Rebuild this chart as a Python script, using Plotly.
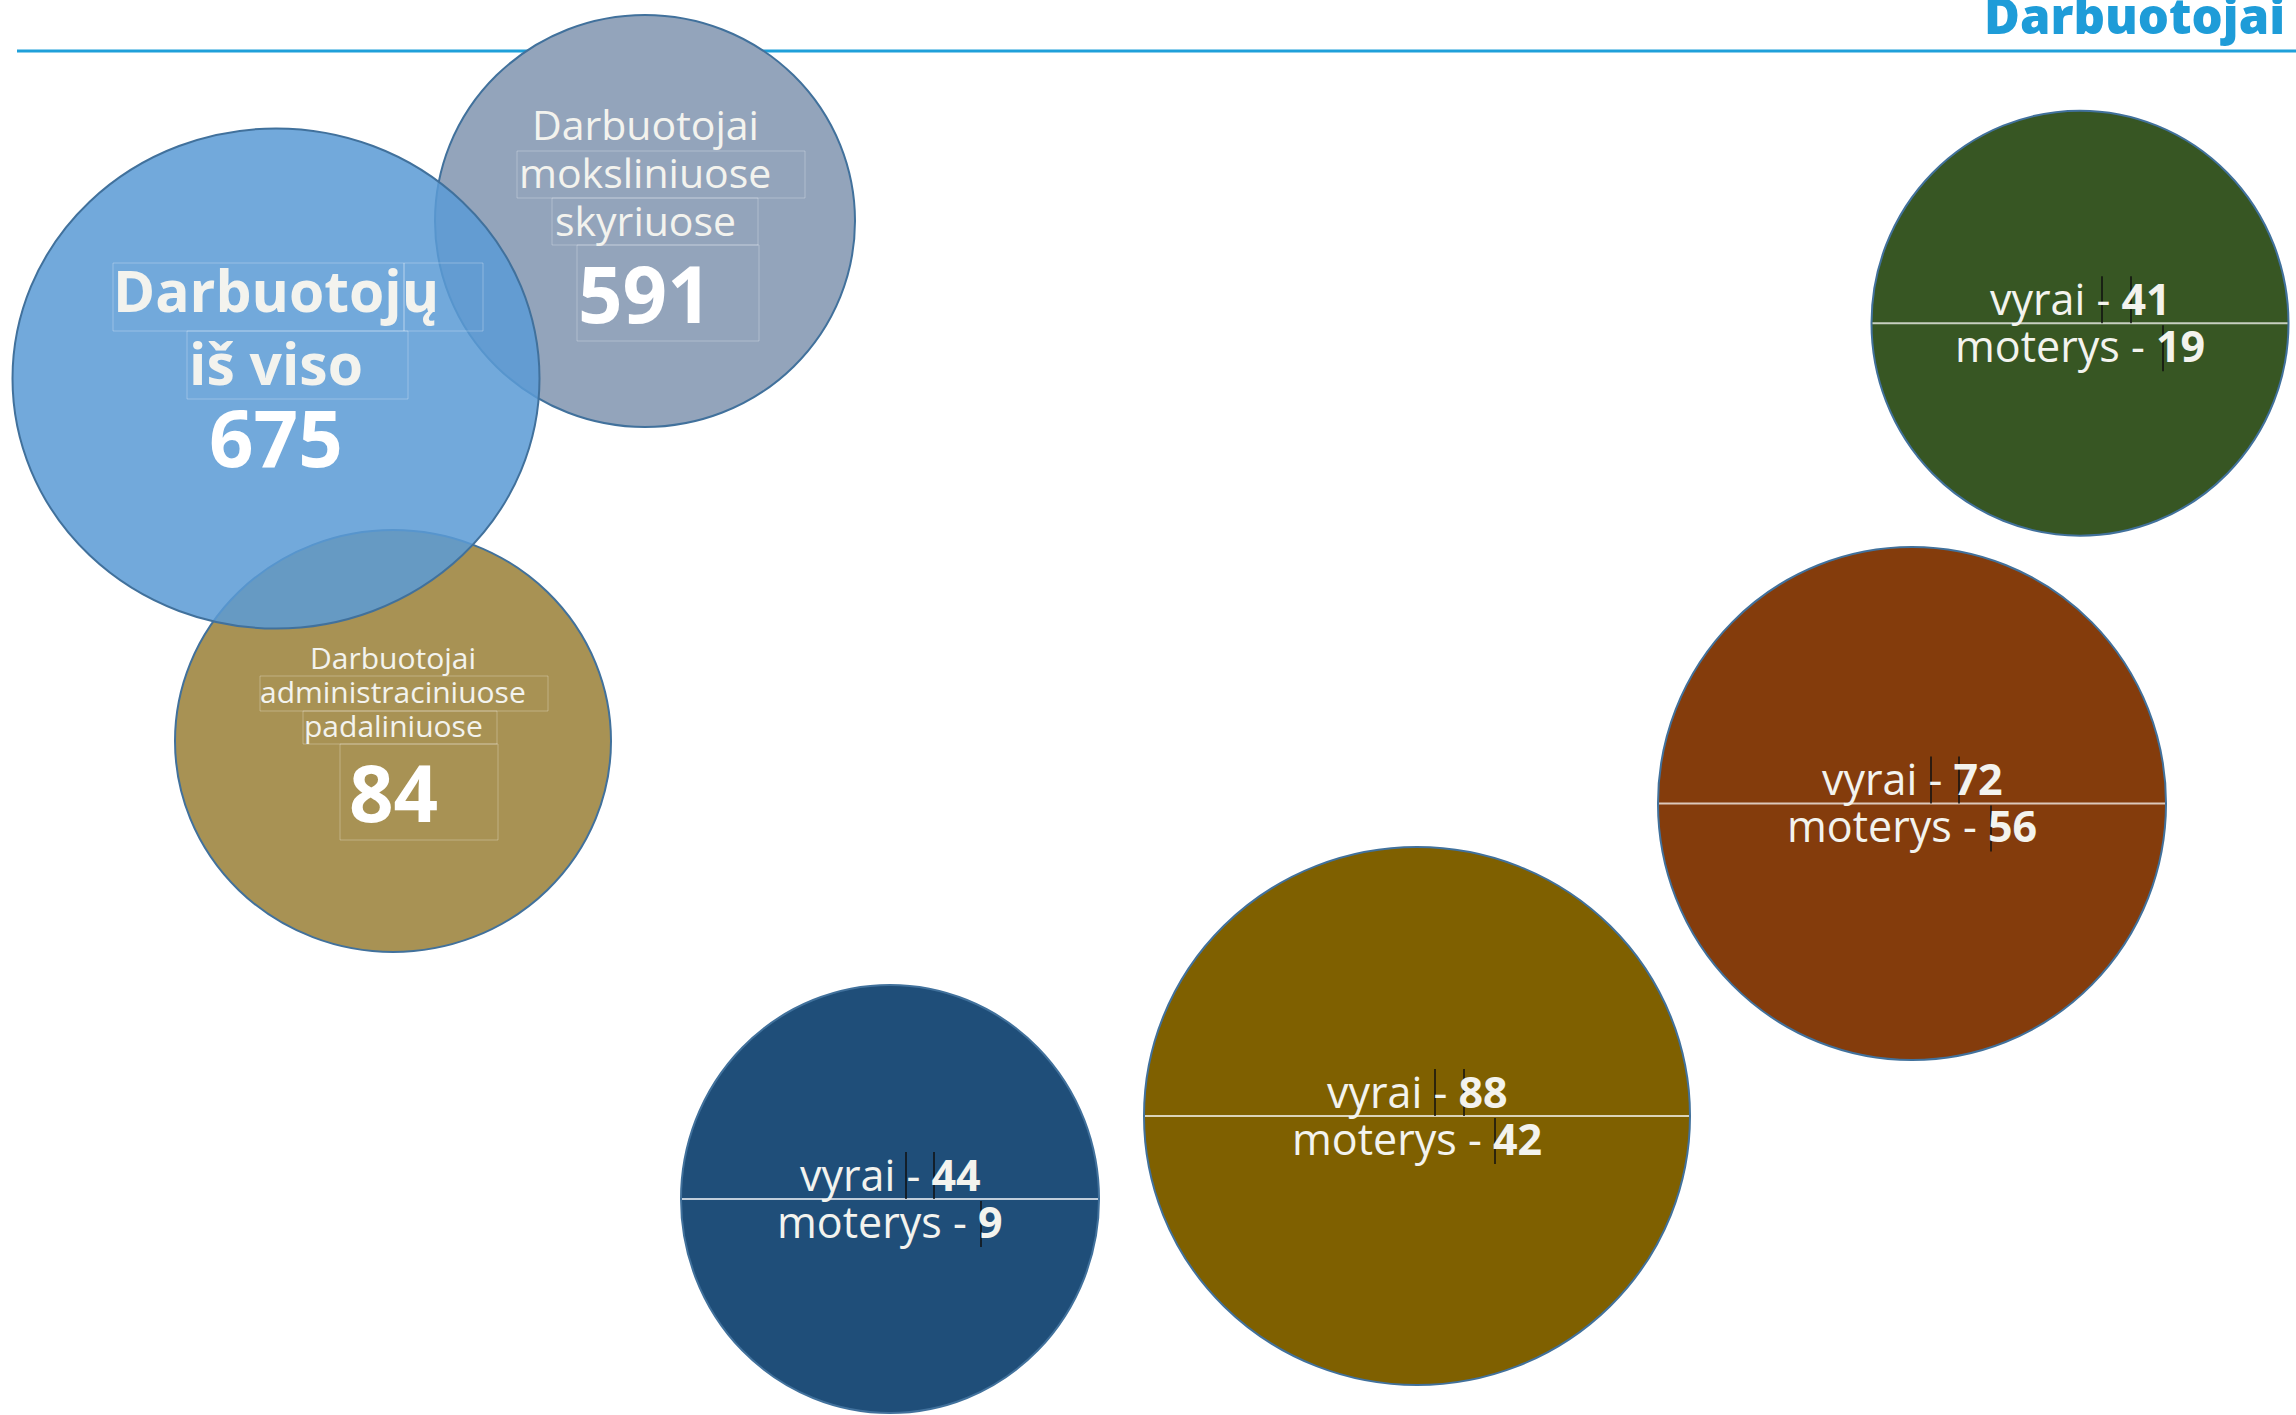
import plotly.graph_objects as go

# ---- data -------------------------------------------------------------
page_title = "Darbuotojai"

summary_lines = [
    ["Darbuotojų", "iš viso"],
    ["Darbuotojai", "moksliniuose", "skyriuose"],
    ["Darbuotojai", "administraciniuose", "padaliniuose"],
]
summary_values = [675, 591, 84]

men_label = "vyrai"
women_label = "moterys"
men = [44, 88, 72, 41]
women = [9, 42, 56, 19]

# ---- layout (pixel space of the page) ---------------------------------
W, H = 2296, 1415
FONT = "Open Sans"
OUTLINE = "#41719C"

# summary bubbles: centre, radii, fill and text placement
summary_geo = [
    dict(cx=276, cy=378.5, rx=263.5, ry=250, fill="rgba(91,155,213,0.86)",
         line_size=57, line_bold=True, baselines=[312, 385], num_base=467, num_size=78),
    dict(cx=645, cy=221, rx=210, ry=206, fill="#93A4BB",
         line_size=41, line_bold=False, baselines=[140, 188, 236], num_base=323, num_size=78),
    dict(cx=393, cy=741, rx=218, ry=211, fill="#A89254",
         line_size=30, line_bold=False, baselines=[669, 703, 737], num_base=822, num_size=78),
]
draw_order = [1, 2, 0]

# faint text-frame outlines inside the summary bubbles
frames = [
    (113, 263, 483, 331), (404, 263, 404, 331), (187, 331, 408, 399),
    (517, 151, 805, 198), (552, 198, 758, 245), (577, 245, 759, 341),
    (260, 676, 548, 711), (303, 711, 497, 744), (340, 744, 498, 840),
]

# gender bubbles: centre, radii, fill, caret offsets
gender_geo = [
    dict(cx=890, cy=1199, rx=209, ry=214, fill="#1F4E79", carets=(16, 44, 91)),
    dict(cx=1417, cy=1116, rx=273, ry=269, fill="#7F6000", carets=(18, 47, 78)),
    dict(cx=1912, cy=803.5, rx=254, ry=256.5, fill="#843C0C", carets=(19, 47, 79)),
    dict(cx=2080, cy=323.2, rx=208.5, ry=212.5, fill="#375623", carets=(22, 51, 83)),
]
G_SIZE = 43

TXT = "#F3F3EE"
ASC = 0.388  # baseline offset from the middle of an Open Sans line box (em)

fig = go.Figure()
fig.add_trace(go.Scatter(x=[0, W], y=[0, H], mode="markers",
                         marker=dict(size=1, opacity=0), hoverinfo="skip"))

shapes = []
annotations = []


def ellipse(g):
    return dict(type="circle", xref="x", yref="y",
                x0=g["cx"] - g["rx"], x1=g["cx"] + g["rx"],
                y0=g["cy"] - g["ry"], y1=g["cy"] + g["ry"],
                fillcolor=g["fill"], line=dict(color=OUTLINE, width=2),
                layer="above")


def text(x, baseline, s, size, color=TXT, xanchor="center", weight=None):
    font = dict(family=FONT, size=size, color=color)
    if weight:
        font["weight"] = weight
    annotations.append(dict(
        x=x, y=baseline - ASC * size, xref="x", yref="y", text=s,
        showarrow=False, xanchor=xanchor, yanchor="middle", font=font))


# header rule and title
shapes.append(dict(type="line", xref="x", yref="y", x0=17, x1=W, y0=51, y1=51,
                   line=dict(color="#1FA0DA", width=3)))
text(2287, 34, page_title, 49, color="#1E9CD8", xanchor="right", weight=800)

# summary bubbles
for i in draw_order:
    shapes.append(ellipse(summary_geo[i]))
for (x0, y0, x1, y1) in frames:
    shapes.append(dict(type="rect", xref="x", yref="y", x0=x0, x1=x1, y0=y0, y1=y1,
                       line=dict(color="rgba(255,255,255,0.28)", width=1),
                       fillcolor="rgba(0,0,0,0)", layer="above"))
for lines, val, g in zip(summary_lines, summary_values, summary_geo):
    for ln, b in zip(lines, g["baselines"]):
        s = "<b>" + ln + "</b>" if g["line_bold"] else ln
        text(g["cx"], b, s, g["line_size"])
    text(g["cx"], g["num_base"], "<b>" + str(val) + "</b>", g["num_size"], color="#FFFFFF")

# gender bubbles
for m, f, g in zip(men, women, gender_geo):
    shapes.append(ellipse(g))
    cx, cy = g["cx"], g["cy"]
    shapes.append(dict(type="line", xref="x", yref="y",
                       x0=cx - g["rx"] + 1, x1=cx + g["rx"] - 1, y0=cy, y1=cy,
                       line=dict(color="rgba(255,255,255,0.72)", width=2), layer="above"))
    c1, c2, c3 = g["carets"]
    for dx, ya, yb in ((c1, -47, 0), (c2, -47, 0), (c3, 2, 48)):
        shapes.append(dict(type="line", xref="x", yref="y",
                           x0=cx + dx, x1=cx + dx, y0=cy + ya, y1=cy + yb,
                           line=dict(color="#111111", width=1.5), layer="above"))
    text(cx, cy - 8, f"{men_label} - <b>{m}</b>", G_SIZE)
    text(cx, cy + 39, f"{women_label} - <b>{f}</b>", G_SIZE)

fig.update_layout(
    width=W, height=H,
    margin=dict(l=0, r=0, t=0, b=0),
    paper_bgcolor="white", plot_bgcolor="white",
    xaxis=dict(range=[0, W], visible=False, fixedrange=True),
    yaxis=dict(range=[H, 0], visible=False, fixedrange=True),
    showlegend=False,
    shapes=shapes,
    annotations=annotations,
)

fig.write_html("out.html", config={"displayModeBar": False})
